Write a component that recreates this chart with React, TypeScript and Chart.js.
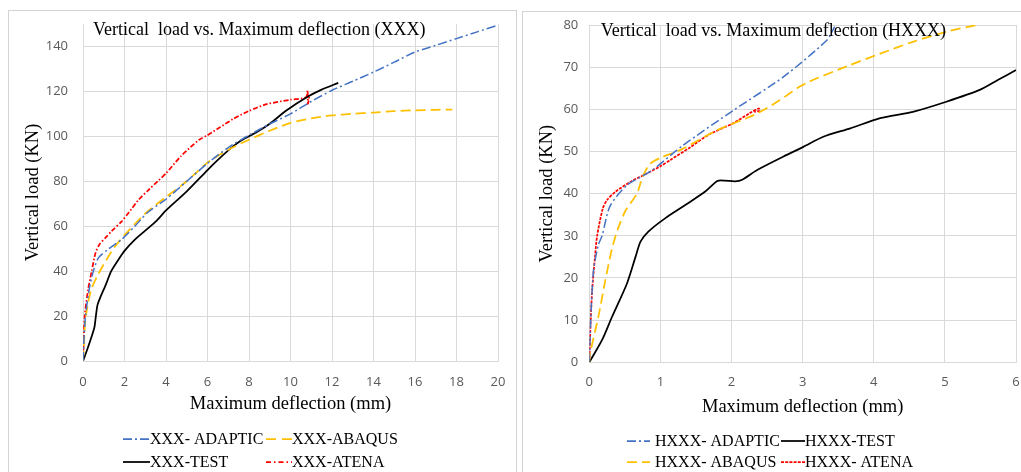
import React, { useEffect, useRef } from 'react';
import { Chart, registerables } from 'chart.js';

Chart.register(...registerables);

// ---------- Left chart (XXX) data ----------
const xxxXTicks = [0, 2, 4, 6, 8, 10, 12, 14, 16, 18, 20];
const xxxYTicks = [0, 20, 40, 60, 80, 100, 120, 140];

const xxxAdapticX = [0, 0.05, 0.12, 0.3, 0.5, 0.75, 1.25, 1.85, 2.5, 3.1, 4.0, 5.0, 6.0, 7.0, 8.0, 9.0, 10.0, 11.0, 12.0, 13.0, 14.0, 15.0, 16.0, 17.0, 18.0, 19.0, 20.0];
const xxxAdapticY = [0, 10, 20, 32, 40, 46, 50, 54, 60, 66, 72, 80, 88, 95, 100.5, 105.5, 110, 115.5, 120.5, 124.5, 128.6, 133, 137.5, 140.5, 143.5, 146.5, 149.5];

const xxxAbaqusX = [0, 0.05, 0.11, 0.25, 0.4, 0.7, 1.0, 1.5, 2.0, 2.5, 3.1, 4.0, 5.0, 6.0, 7.0, 8.0, 9.0, 10.0, 11.0, 12.0, 13.0, 14.0, 15.0, 16.0, 17.0, 17.8];
const xxxAbaqusY = [0, 8, 18, 26, 32, 38, 43, 50.5, 56, 61, 66.5, 73, 80, 88.3, 94, 98.5, 102.5, 106, 108, 109.3, 110, 110.6, 111.2, 111.6, 111.8, 111.9];

const xxxTestX = [0, 0.2, 0.42, 0.55, 0.62, 0.7, 0.82, 1.1, 1.36, 1.7, 2.0, 2.5, 3.0, 3.5, 4.0, 5.0, 6.0, 6.5, 7.1, 7.6, 8.4, 9.0, 9.8, 10.8, 11.5, 12.3];
const xxxTestY = [0, 5, 11, 15, 20, 25, 28, 34, 40, 45, 49, 54, 58, 62, 67, 75.5, 85, 89.5, 94.5, 98, 102, 105.6, 111.5, 117.5, 120.8, 123.8];

const xxxAtenaX = [0, 0.03, 0.08, 0.25, 0.42, 0.6, 0.8, 1.1, 1.4, 1.85, 2.2, 2.7, 3.2, 3.6, 4.0, 4.7, 5.6, 6.0, 6.6, 7.25, 8.0, 8.85, 10.0, 10.75, 10.82, 10.84, 10.9, 10.8];
const xxxAtenaY = [0, 8, 20, 32, 40, 48, 52, 55, 58, 62, 66, 72, 76.5, 80, 83.5, 91, 98.5, 100.5, 104, 107.8, 111.3, 114.3, 116.3, 117.4, 120.5, 114.5, 118, 117.6];

// ---------- Right chart (HXXX) data ----------
const hxxxXTicks = [0, 1, 2, 3, 4, 5, 6];
const hxxxYTicks = [0, 10, 20, 30, 40, 50, 60, 70, 80];

const hxxxAdapticX = [0, 0.02, 0.06, 0.13, 0.18, 0.29, 0.53, 0.88, 1.32, 2.03, 2.73, 3.34, 3.45];
const hxxxAdapticY = [0, 10, 22, 28, 30, 37, 42, 45.5, 51.5, 59.8, 67.7, 76.4, 79.6];

const hxxxAbaqusX = [0, 0.01, 0.13, 0.22, 0.32, 0.41, 0.51, 0.67, 0.75, 0.85, 1.0, 1.3, 1.79, 2.36, 2.68, 2.96, 3.15, 3.62, 4.09, 4.55, 5.02, 5.45];
const hxxxAbaqusY = [0, 2, 11, 19, 27, 32, 36, 40, 44, 47, 48.5, 50.5, 55, 59, 62.2, 65.4, 67, 70.2, 73.2, 76, 78.4, 80];

const hxxxTestX = [0, 0.18, 0.32, 0.53, 0.65, 0.72, 0.83, 1.07, 1.35, 1.63, 1.8, 1.9, 2.05, 2.15, 2.36, 2.73, 3.01, 3.29, 3.67, 4.09, 4.55, 5.02, 5.49, 5.75, 6.0];
const hxxxTestY = [0, 5.3, 10.8, 18.7, 25, 28.6, 31, 34.2, 37.3, 40.5, 43, 43.1, 42.9, 43.3, 45.6, 48.8, 51.1, 53.5, 55.5, 57.9, 59.4, 61.8, 64.6, 67, 69.3];

const hxxxAtenaX = [0, 0.02, 0.04, 0.08, 0.11, 0.19, 0.25, 0.37, 0.6, 0.8, 1.0, 1.14, 1.42, 1.68, 2.0, 2.25, 2.38, 2.4, 2.32];
const hxxxAtenaY = [0, 10, 17, 25, 30, 36.5, 38.5, 40.5, 43, 44.7, 46.5, 48, 51, 54, 56.5, 59, 60.2, 59.7, 59.4];

// ---------- styles ----------
const BLUE = '#4472C4';
const YELLOW = '#FFC000';
const BLACK = '#000000';
const RED = '#FF0000';
const GRID = '#d9d9d9';
const SERIF = '"Liberation Serif", "Times New Roman", serif';
const SANS = '"Open Sans", "Liberation Sans", sans-serif';

const pts = (xs: number[], ys: number[]) => xs.map((x, i) => ({ x, y: ys[i] }));

const overlayPlugin = {
  id: 'overlay',
  afterDraw(chart: any, _args: any, opts: any) {
    const ctx = chart.ctx;
    const ca = chart.chartArea;
    ctx.save();
    ctx.fillStyle = '#000';
    ctx.textAlign = 'left';
    ctx.textBaseline = 'alphabetic';
    ctx.font = `18px ${SERIF}`;
    ctx.fillText(opts.title, ca.left + opts.titleDx, ca.top + opts.titleDy);
    ctx.font = `16px ${SERIF}`;
    ctx.textBaseline = 'middle';
    for (const it of opts.items) {
      ctx.beginPath();
      ctx.setLineDash(it.dash);
      ctx.strokeStyle = it.color;
      ctx.lineWidth = it.width;
      ctx.moveTo(it.x0, it.y);
      ctx.lineTo(it.x1, it.y);
      ctx.stroke();
      ctx.setLineDash([]);
      ctx.fillStyle = '#000';
      ctx.fillText(it.label, it.tx, it.y + 1);
    }
    ctx.restore();
  },
};

function ds(label: string, xs: number[], ys: number[], color: string, dash: number[], width: number) {
  return {
    label,
    data: pts(xs, ys),
    showLine: true,
    borderColor: color,
    backgroundColor: color,
    borderWidth: width,
    borderDash: dash,
    pointRadius: 0,
    tension: 0.25,
    fill: false,
  };
}

function makeConfig(p: any) {
  return {
    type: 'scatter',
    data: { datasets: p.datasets },
    plugins: [overlayPlugin],
    options: {
      responsive: false,
      animation: false,
      devicePixelRatio: 1,
      layout: { padding: p.padding },
      plugins: {
        legend: { display: false },
        title: { display: false },
        tooltip: { enabled: false },
        overlay: p.overlay,
      },
      scales: {
        x: {
          type: 'linear',
          min: p.xMin,
          max: p.xMax,
          afterBuildTicks: (s: any) => { s.ticks = p.xTicks.map((v: number) => ({ value: v })); },
          afterFit: (s: any) => { s.height = p.xHeight; },
          grid: { color: GRID, drawTicks: false, lineWidth: 1 },
          border: { color: GRID },
          ticks: { padding: p.xTickPad, color: '#595959', font: { family: SANS, size: 13 }, maxRotation: 0 },
          title: { display: true, text: 'Maximum deflection (mm)', color: '#000', font: { family: SERIF, size: 18.5 }, padding: { top: 4, bottom: 4 } },
        },
        y: {
          type: 'linear',
          min: p.yMin,
          max: p.yMax,
          afterBuildTicks: (s: any) => { s.ticks = p.yTicks.map((v: number) => ({ value: v })); },
          afterFit: (s: any) => { s.width = p.yWidth; },
          grid: { color: GRID, drawTicks: false, lineWidth: 1 },
          border: { color: GRID },
          ticks: { padding: p.yTickPad, color: '#595959', font: { family: SANS, size: 13 } },
          title: { display: true, text: 'Vertical load (KN)', color: '#000', font: { family: SERIF, size: 18.5 }, padding: { top: 4, bottom: 4 } },
        },
      },
    },
  };
}

function ChartCanvas({ config, width, height, left }: any) {
  const ref = useRef<HTMLCanvasElement>(null);
  useEffect(() => {
    const chart = new Chart(ref.current as HTMLCanvasElement, config);
    return () => chart.destroy();
  }, []);
  return (
    <canvas
      ref={ref}
      width={width}
      height={height}
      style={{ position: 'absolute', left, top: 0, width, height }}
    />
  );
}

const leftConfig = makeConfig({
  datasets: [
    ds('XXX- ADAPTIC', xxxAdapticX, xxxAdapticY, BLUE, [9, 3, 2, 3], 1.5),
    ds('XXX-ABAQUS', xxxAbaqusX, xxxAbaqusY, YELLOW, [10, 5], 1.75),
    ds('XXX-TEST', xxxTestX, xxxTestY, BLACK, [], 1.75),
    ds('XXX-ATENA', xxxAtenaX, xxxAtenaY, RED, [5, 2, 1.5, 2], 1.75),
  ],
  padding: { left: 18, right: 24, top: 24, bottom: 53 },
  xMin: 0, xMax: 20, xTicks: xxxXTicks, xHeight: 58, xTickPad: 13,
  yMin: 0, yMax: 150, yTicks: xxxYTicks, yWidth: 65, yTickPad: 15,
  overlay: {
    title: 'Vertical  load vs. Maximum deflection (XXX)',
    titleDx: 10, titleDy: 11,
    items: [
      { label: 'XXX- ADAPTIC', color: BLUE, dash: [9, 3, 2, 3], width: 1.75, x0: 123, x1: 150, tx: 150, y: 439 },
      { label: 'XXX-ABAQUS', color: YELLOW, dash: [10, 6], width: 1.75, x0: 266, x1: 292, tx: 292, y: 439 },
      { label: 'XXX-TEST', color: BLACK, dash: [], width: 1.75, x0: 123, x1: 150, tx: 150, y: 462 },
      { label: 'XXX-ATENA', color: RED, dash: [5, 3, 1.5, 3], width: 1.75, x0: 266, x1: 292, tx: 292, y: 462 },
    ],
  },
});

const rightConfig = makeConfig({
  datasets: [
    ds('HXXX- ADAPTIC', hxxxAdapticX, hxxxAdapticY, BLUE, [9, 3, 2, 3], 1.5),
    ds('HXXX- ABAQUS', hxxxAbaqusX, hxxxAbaqusY, YELLOW, [10, 5], 1.75),
    ds('HXXX-TEST', hxxxTestX, hxxxTestY, BLACK, [], 1.75),
    ds('HXXX- ATENA', hxxxAtenaX, hxxxAtenaY, RED, [3, 1.2], 1.75),
  ],
  padding: { left: 16, right: 24, top: 25, bottom: 50 },
  xMin: 0, xMax: 6, xTicks: hxxxXTicks, xHeight: 59.7, xTickPad: 12,
  yMin: 0, yMax: 80, yTicks: hxxxYTicks, yWidth: 57.3, yTickPad: 11,
  overlay: {
    title: 'Vertical  load vs. Maximum deflection (HXXX)',
    titleDx: 11.4, titleDy: 11,
    items: [
      { label: 'HXXX- ADAPTIC', color: BLUE, dash: [9, 3, 2, 3], width: 1.75, x0: 111, x1: 134, tx: 139, y: 441 },
      { label: 'HXXX-TEST', color: BLACK, dash: [], width: 1.75, x0: 265, x1: 289, tx: 289, y: 441 },
      { label: 'HXXX- ABAQUS', color: YELLOW, dash: [10, 5], width: 1.75, x0: 111, x1: 134, tx: 139, y: 462 },
      { label: 'HXXX- ATENA', color: RED, dash: [3, 1.2], width: 1.75, x0: 265, x1: 289, tx: 289, y: 462 },
    ],
  },
});

export default function App() {
  return (
    <div style={{ position: 'absolute', left: 0, top: 0, width: 1021, height: 472, overflow: 'hidden', background: '#fff' }}>
      <ChartCanvas config={leftConfig} width={522} height={472} left={0} />
      <ChartCanvas config={rightConfig} width={524} height={472} left={516} />
      <div style={{ position: 'absolute', left: 516, top: 0, width: 6, height: 472, background: '#fff', pointerEvents: 'none' }} />
      <div style={{ position: 'absolute', left: 8, top: 10, width: 507, height: 480, border: '1px solid #d4d4d4', pointerEvents: 'none' }} />
      <div style={{ position: 'absolute', left: 522, top: 11, width: 520, height: 480, border: '1px solid #d4d4d4', pointerEvents: 'none' }} />
    </div>
  );
}
